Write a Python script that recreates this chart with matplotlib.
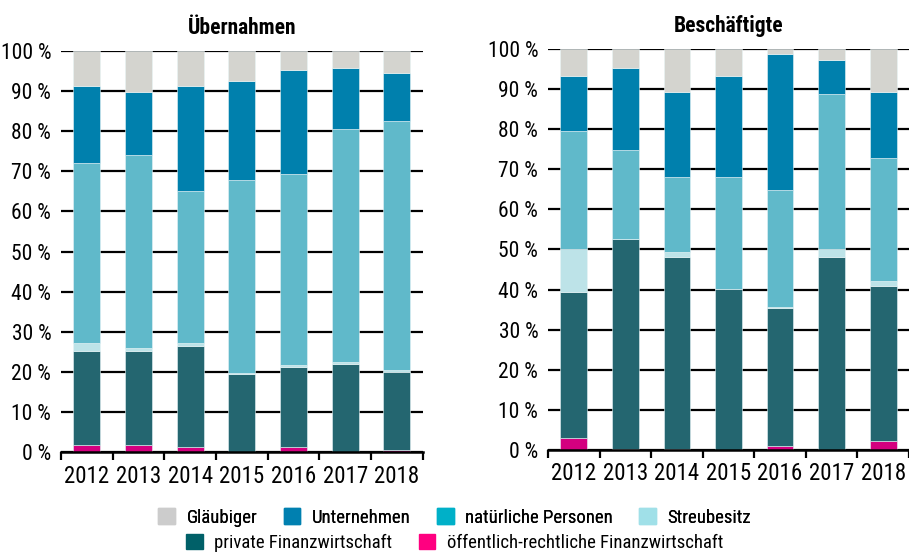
import matplotlib
matplotlib.use("Agg")
import matplotlib.pyplot as plt
from matplotlib import font_manager
from matplotlib.patches import Patch
import numpy as np

# schmale Schrift suchen, sonst Roboto
vorhanden = {f.name for f in font_manager.fontManager.ttflist}
schrift = "Roboto"
for kandidat in ["Roboto Condensed", "Liberation Sans Narrow", "DejaVu Sans Condensed",
                 "Open Sans Condensed", "Noto Sans Condensed"]:
    if kandidat in vorhanden:
        schrift = kandidat
        break
schmal = schrift != "Roboto"
plt.rcParams["font.family"] = [schrift, "DejaVu Sans"]

jahre = ["2012", "2013", "2014", "2015", "2016", "2017", "2018"]
serien = [
    "öffentlich-rechtliche Finanzwirtschaft",
    "private Finanzwirtschaft",
    "Streubesitz",
    "natürliche Personen",
    "Unternehmen",
    "Gläubiger",
]

# Anteile in % (von unten nach oben), Übernahmen
ueb_oeffentlich = [1.8, 1.8, 1.2, 0.0, 1.2, 0.0, 0.5]
ueb_privat = [23.4, 23.4, 25.3, 19.4, 20.1, 21.9, 19.5]
ueb_streubesitz = [2.0, 0.7, 0.6, 0.4, 0.5, 0.5, 0.4]
ueb_natuerlich = [44.8, 48.1, 38.1, 48.1, 47.5, 58.2, 62.2]
ueb_unternehmen = [19.3, 15.8, 26.1, 24.6, 25.9, 15.1, 11.9]
ueb_glaeubiger = [8.7, 10.2, 8.7, 7.5, 4.8, 4.3, 5.5]

# Anteile in %, Beschäftigte
bes_oeffentlich = [2.9, 0.2, 0.2, 0.0, 1.0, 0.0, 2.3]
bes_privat = [36.5, 52.4, 48.0, 40.1, 34.5, 48.2, 38.5]
bes_streubesitz = [10.7, 0.1, 1.2, 0.0, 0.1, 1.9, 1.3]
bes_natuerlich = [29.4, 22.1, 18.7, 28.0, 29.2, 38.7, 30.8]
bes_unternehmen = [13.8, 20.5, 21.2, 25.2, 33.9, 8.5, 16.4]
bes_glaeubiger = [6.7, 4.7, 10.7, 6.7, 1.3, 2.7, 10.7]

farben_balken = ["#d4007f", "#246670", "#bde3e8", "#60b9ca", "#0080ad", "#d4d4cf"]
farben_legende = ["#ff0080", "#006068", "#a0e0e8", "#00b0c8", "#0080b0", "#cccccc"]

gr_y = 15.5 if schmal else 12
gr_x = 16.5 if schmal else 12.5
gr_leg = 13.5 if schmal else 10.5
gr_titel = 15.5 if schmal else 12

fig = plt.figure(figsize=(9.09, 5.53), dpi=100)
ax1 = fig.add_axes([0.0671, 0.1826, 0.398, 0.7252])
ax2 = fig.add_axes([0.6029, 0.1863, 0.397, 0.7252])


def zeichne(ax, daten, titel):
    x = np.arange(len(jahre))
    unten = np.zeros(len(jahre))
    for werte, farbe in zip(daten, farben_balken):
        werte = np.array(werte)
        ax.bar(x, werte, width=0.52, bottom=unten, color=farbe,
               edgecolor="#e8f4f6", linewidth=0.4, zorder=3)
        unten += werte
    ax.set_xlim(-0.5, len(jahre) - 0.5)
    ax.set_ylim(0, 100)
    ax.set_yticks(range(0, 101, 10))
    ax.set_yticklabels([f"{v} %" for v in range(0, 101, 10)], fontsize=gr_y)
    ax.yaxis.grid(True, color="black", linewidth=1.6, zorder=0)
    ax.set_axisbelow(True)
    ax.set_xticks(x)
    ax.set_xticklabels(jahre, fontsize=gr_x)
    ax.set_xticks(np.arange(-0.5, len(jahre)), minor=True)
    ax.tick_params(axis="x", which="major", length=0, pad=9)
    ax.tick_params(axis="x", which="minor", length=6, width=1.6, color="black")
    ax.tick_params(axis="y", length=0, pad=7)
    for s in ["left", "right", "top"]:
        ax.spines[s].set_visible(False)
    ax.spines["bottom"].set_linewidth(1.8)
    ax.spines["bottom"].set_zorder(4)
    ax.set_title(titel, fontsize=gr_titel, fontweight="bold", pad=12)


zeichne(ax1, [ueb_oeffentlich, ueb_privat, ueb_streubesitz, ueb_natuerlich,
              ueb_unternehmen, ueb_glaeubiger], "Übernahmen")
zeichne(ax2, [bes_oeffentlich, bes_privat, bes_streubesitz, bes_natuerlich,
              bes_unternehmen, bes_glaeubiger], "Beschäftigte")

handles = [Patch(color=c, label=l) for c, l in zip(farben_legende, serien)]
reihe1 = [handles[5], handles[4], handles[3], handles[2]]
reihe2 = [handles[1], handles[0]]
leg1 = fig.legend(handles=reihe1, loc="center", bbox_to_anchor=(0.5, 0.064),
                  ncol=4, frameon=False, fontsize=gr_leg, handlelength=0.9,
                  handleheight=0.9, columnspacing=1.4, handletextpad=0.6)
fig.add_artist(leg1)
fig.legend(handles=reihe2, loc="center", bbox_to_anchor=(0.5, 0.018),
           ncol=2, frameon=False, fontsize=gr_leg, handlelength=0.9,
           handleheight=0.9, columnspacing=1.4, handletextpad=0.6)

fig.savefig("out.png", dpi=100)
